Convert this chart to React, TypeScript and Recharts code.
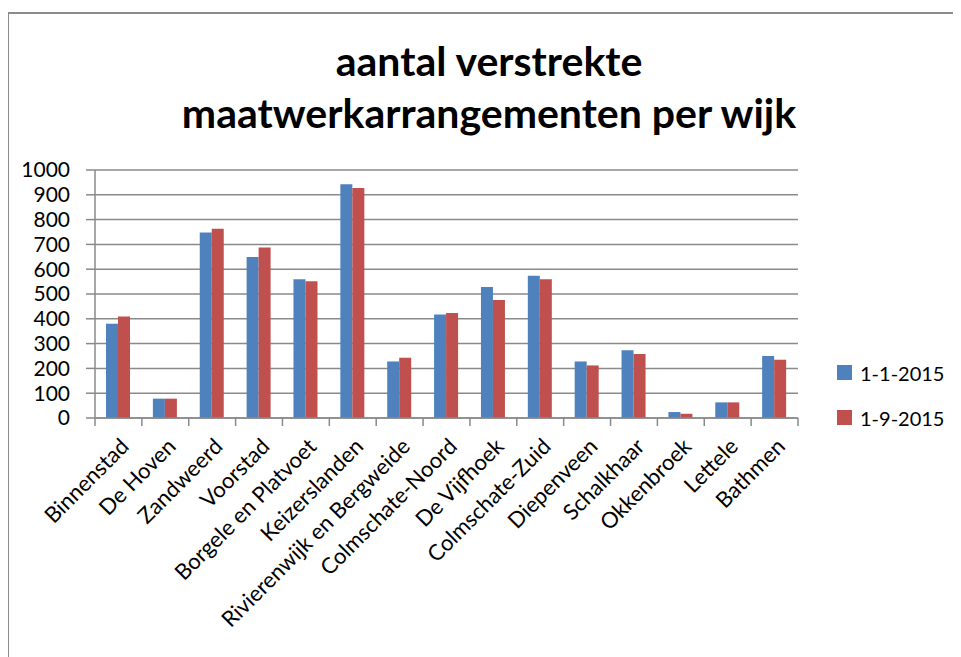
import { BarChart, Bar, XAxis, YAxis, CartesianGrid, Legend } from "recharts"

const categories = [
  "Binnenstad",
  "De Hoven",
  "Zandweerd",
  "Voorstad",
  "Borgele en Platvoet",
  "Keizerslanden",
  "Rivierenwijk en Bergweide",
  "Colmschate-Noord",
  "De Vijfhoek",
  "Colmschate-Zuid",
  "Diepenveen",
  "Schalkhaar",
  "Okkenbroek",
  "Lettele",
  "Bathmen",
]
const jan2015 = [380, 78, 748, 649, 559, 943, 228, 417, 528, 574, 228, 273, 24, 63, 250]
const sep2015 = [409, 78, 763, 687, 551, 927, 243, 423, 476, 559, 212, 258, 17, 63, 235]
const yTicks = [0, 100, 200, 300, 400, 500, 600, 700, 800, 900, 1000]
const seriesNames = ["1-1-2015", "1-9-2015"]

const data = categories.map((wijk, i) => ({
  wijk,
  jan: jan2015[i],
  sep: sep2015[i],
}))

const FONT = "Lato, 'Open Sans', sans-serif"
const GRID = "#8a8a8a"
const BLUE = "#4f81bd"
const RED = "#c0504d"

function CategoryTick(props: any) {
  const { x, y, payload, index } = props
  const half = payload?.offset ?? 23.4
  return (
    <g>
      <line x1={x - half} x2={x - half} y1={y} y2={y + 8} stroke={GRID} strokeWidth={1.5} />
      {index === categories.length - 1 && (
        <line x1={x + half} x2={x + half} y1={y} y2={y + 8} stroke={GRID} strokeWidth={1.5} />
      )}
      <text
        x={x + 1}
        y={y + 19}
        dy="0.7em"
        textAnchor="end"
        fontSize={22}
        fontFamily={FONT}
        fill="#000"
        transform={`rotate(-45, ${x + 1}, ${y + 19})`}
      >
        {payload.value}
      </text>
    </g>
  )
}

function LegendBox() {
  const colors = [BLUE, RED]
  return (
    <div style={{ width: 150, fontFamily: FONT, fontSize: 20, color: "#000" }}>
      {seriesNames.map((name, i) => (
        <div
          key={name}
          style={{ display: "flex", alignItems: "center", height: 45, paddingLeft: 39 }}
        >
          <span style={{ width: 15, height: 15, background: colors[i], marginRight: 8 }} />
          <span>{name}</span>
        </div>
      ))}
    </div>
  )
}

export default function App() {
  return (
    <div
      style={{
        position: "relative",
        marginLeft: -1,
        marginTop: 4,
        width: 952,
        height: 643,
        borderTop: "2px solid #8c8c8c",
        borderLeft: "2px solid #8c8c8c",
        overflow: "hidden",
      }}
    >
      <div style={{ position: "absolute", left: -9, top: -14, width: 961, height: 657 }}>
        <div
          style={{
            position: "absolute",
            left: 0,
            top: 35,
            width: 978,
            textAlign: "center",
            fontFamily: FONT,
            fontWeight: 700,
            fontSize: 41,
            lineHeight: "52px",
            color: "#000",
          }}
        >
          aantal verstrekte
          <br />
          maatwerkarrangementen per wijk
        </div>
        <BarChart
          width={961}
          height={657}
          data={data}
          margin={{ top: 170, right: 13, bottom: 0, left: 35 }}
          barGap={0}
          barCategoryGap="23.5%"
          style={{ position: "absolute", left: 0, top: 0 }}
        >
          <CartesianGrid vertical={false} stroke={GRID} strokeWidth={1.5} />
          <XAxis
            dataKey="wijk"
            interval={0}
            tickSize={0}
            tickMargin={0}
            tickLine={false}
            axisLine={{ stroke: GRID, strokeWidth: 1.5 }}
            tick={<CategoryTick />}
            height={239}
          />
          <YAxis
            domain={[0, 1000]}
            ticks={yTicks}
            interval={0}
            width={60}
            tickSize={9}
            tickMargin={16}
            axisLine={{ stroke: GRID, strokeWidth: 1.5 }}
            tickLine={{ stroke: GRID, strokeWidth: 1.5 }}
            tick={{ fontSize: 21, fontFamily: FONT, fill: "#000" }}
          />
          <Legend
            layout="vertical"
            align="right"
            verticalAlign="middle"
            content={<LegendBox />}
            wrapperStyle={{ top: 350 }}
          />
          <Bar dataKey="jan" name={seriesNames[0]} fill={BLUE} isAnimationActive={false} />
          <Bar dataKey="sep" name={seriesNames[1]} fill={RED} isAnimationActive={false} />
        </BarChart>
      </div>
    </div>
  )
}
